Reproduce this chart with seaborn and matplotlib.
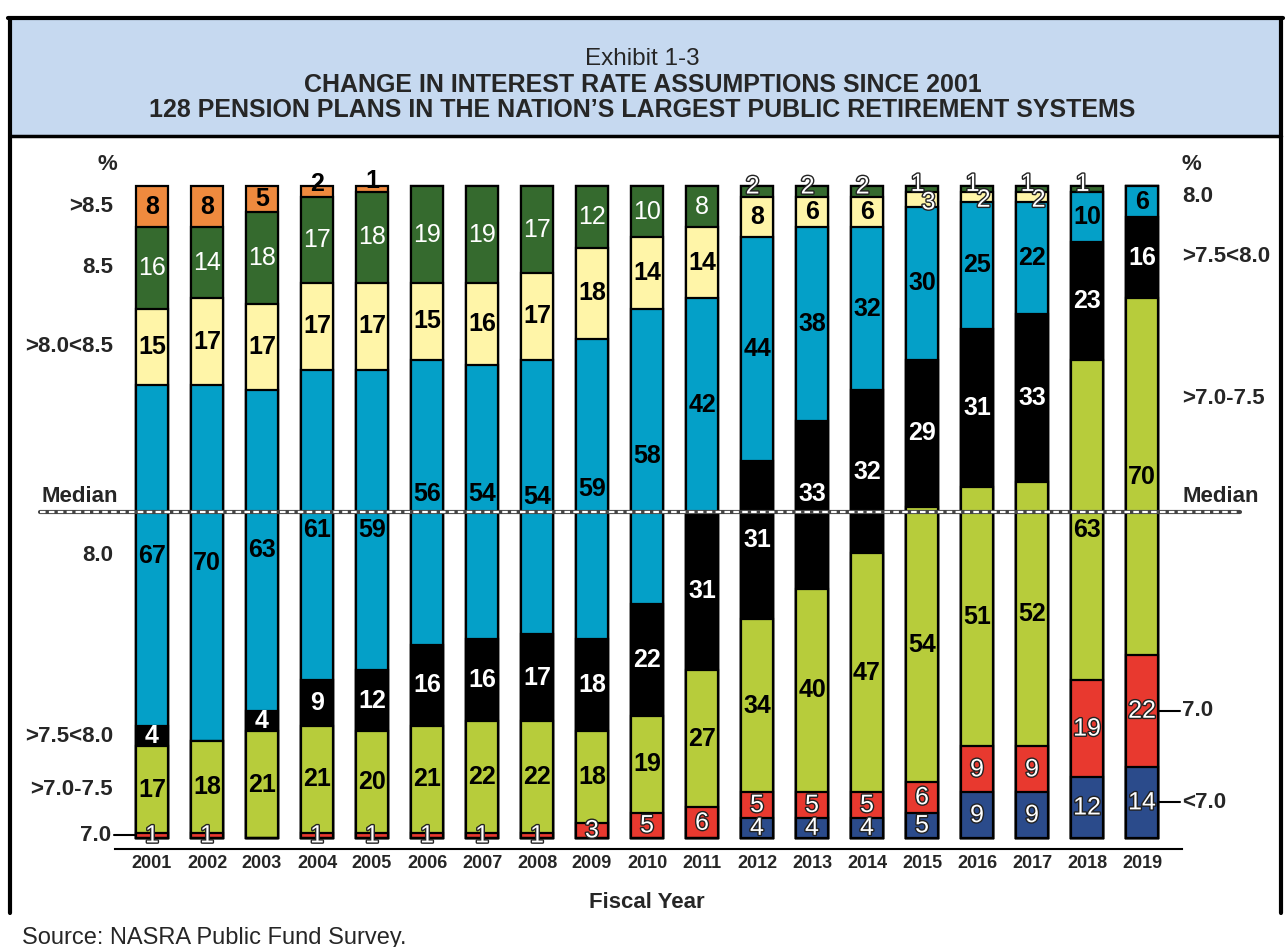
import numpy as np
import pandas as pd
import seaborn as sns
import matplotlib.pyplot as plt
import matplotlib.patheffects as pe
from matplotlib.patches import Rectangle
from matplotlib.lines import Line2D

sns.set_theme(style='white')
plt.rcParams['font.family'] = ['Liberation Sans', 'DejaVu Sans']

years = [str(y) for y in range(2001, 2020)]

# number of plans per assumption bucket, bottom of the bar to top
lt70   = [0, 0, 0, 0, 0, 0, 0, 0, 0, 0, 0, 4, 4, 4, 5, 9, 9, 12, 14]
eq70   = [1, 1, 0, 1, 1, 1, 1, 1, 3, 5, 6, 5, 5, 5, 6, 9, 9, 19, 22]
r70_75 = [17, 18, 21, 21, 20, 21, 22, 22, 18, 19, 27, 34, 40, 47, 54, 51, 52, 63, 70]
r75_80 = [4, 0, 4, 9, 12, 16, 16, 17, 18, 22, 31, 31, 33, 32, 29, 31, 33, 23, 16]
eq80   = [67, 70, 63, 61, 59, 56, 54, 54, 59, 58, 42, 44, 38, 32, 30, 25, 22, 10, 6]
r80_85 = [15, 17, 17, 17, 17, 15, 16, 17, 18, 14, 14, 8, 6, 6, 3, 2, 2, 0, 0]
eq85   = [16, 14, 18, 17, 18, 19, 19, 17, 12, 10, 8, 2, 2, 2, 1, 1, 1, 1, 0]
gt85   = [8, 8, 5, 2, 1, 0, 0, 0, 0, 0, 0, 0, 0, 0, 0, 0, 0, 0, 0]

left_labels = ['7.0', '>7.0-7.5', '>7.5<8.0', '8.0', '>8.0<8.5', '8.5', '>8.5']
right_labels = ['<7.0', '7.0', '>7.0-7.5', '>7.5<8.0', '8.0']
median = 64

# (values, fill colour, text colour, bold, outlined)
layers = [
    (lt70,   '#2b4b8b', 'white', False, True),
    (eq70,   '#e8392f', 'white', False, True),
    (r70_75, '#b7cc3b', 'black', True, False),
    (r75_80, '#000000', 'white', True, False),
    (eq80,   '#04a0c8', 'black', True, False),
    (r80_85, '#fff5a8', 'black', True, False),
    (eq85,   '#356a2e', 'white', False, False),
    (gt85,   '#ef8a3e', 'black', True, False),
]

W, H = 1285, 947
fig = plt.figure(figsize=(W / 100, H / 100), dpi=100)
fig.patch.set_facecolor('white')

def fy(py):
    return 1 - py / H

# header band and frame
fig.add_artist(Rectangle((10 / W, fy(136)), 1271 / W, 118 / H, transform=fig.transFigure,
                         facecolor='#c6d9f0', edgecolor='none', zorder=0))
fig.add_artist(Line2D([8 / W, 1283 / W], [fy(18), fy(18)], color='black', lw=3))
fig.add_artist(Line2D([10 / W, 1281 / W], [fy(136), fy(136)], color='black', lw=2.5))
fig.add_artist(Line2D([10 / W, 10 / W], [fy(18), fy(913)], color='black', lw=3))
fig.add_artist(Line2D([1281 / W, 1281 / W], [fy(18), fy(913)], color='black', lw=3))

fig.text(0.5, fy(59), 'Exhibit 1-3', ha='center', va='center', fontsize=17.5)
fig.text(0.5, fy(85), 'CHANGE IN INTEREST RATE ASSUMPTIONS SINCE 2001',
         ha='center', va='center', fontsize=18, fontweight='bold')
fig.text(0.5, fy(110), '128 PENSION PLANS IN THE NATION\u2019S LARGEST PUBLIC RETIREMENT SYSTEMS',
         ha='center', va='center', fontsize=18, fontweight='bold')

# plot area: bars centred at 152 + 55*i px, zero at y=838 px, 5.09 px per plan
ax = fig.add_axes([115 / W, fy(849), (1182 - 115) / W, (849 - 150) / H])
ax.set_facecolor('white')

def px2x(px):
    return (px - 152) / 55

def py2y(py):
    return (838 - py) / 5.09

cum = np.cumsum([np.array(v) for v, *_ in layers], axis=0)

# overlapping cumulative bars, tallest first
for k in range(len(layers) - 1, -1, -1):
    sns.barplot(x=years, y=cum[k], order=years, color=layers[k][1], saturation=1,
                width=0.58, edgecolor='black', linewidth=1.6, errorbar=None, ax=ax)

outline = [pe.Stroke(linewidth=2, foreground='#222222'), pe.Normal()]
for k, (vals, fill, tc, bold, outl) in enumerate(layers):
    for i, v in enumerate(vals):
        if v == 0:
            continue
        base = cum[k][i] - v
        x, y = i, base + v / 2
        color, weight, effects = tc, 'bold' if bold else 'normal', None
        if outl:
            effects = outline
        if k == 5 and v <= 3:
            color, weight, effects = 'white', 'normal', outline
            x, y = i + 0.12, y - 0.6
        if k == 6 and v <= 2:
            effects = outline
            x, y = i - 0.08, y + 1.0
        if k == 7 and v <= 2:
            y = y + 1.5
        # keep numbers clear of the median line
        if v > 10 and abs(y - median) < 3:
            y = median + 3.5 if y >= median else median - 3.5
        ax.text(x, y, str(v), ha='center', va='center', fontsize=18, color=color,
                fontweight=weight, path_effects=effects, zorder=5, clip_on=False)

ax.set_xlim(px2x(115), px2x(1182))
ax.set_ylim(py2y(849), py2y(150))
ax.set_yticks([])
ax.tick_params(axis='x', length=0, pad=4)
ax.set_xticks(range(len(years)))
ax.set_xticklabels(years, fontsize=13, fontweight='bold',
                   family=['Liberation Sans Narrow', 'Liberation Sans'])
ax.set_xlabel('')
ax.set_ylabel('')
for s in ['left', 'right', 'top']:
    ax.spines[s].set_visible(False)
ax.spines['bottom'].set_color('black')
ax.spines['bottom'].set_linewidth(1.5)

# median line
ax.plot([px2x(40), px2x(1240)], [median, median], color='#444444', lw=3, clip_on=False, zorder=6)
ax.plot([px2x(40), px2x(1240)], [median, median], color='white', lw=1.6, ls=(0, (2.5, 1.5)),
        clip_on=False, zorder=7)

# bucket labels at the 2001 bar (left) and 2019 bar (right)
lab = dict(fontsize=16, fontweight='bold', va='center', clip_on=False)
left_x = px2x(113)
first = [cum[k][0] - layers[k][0][0] / 2 for k in range(1, 8)]
for t, y in zip(left_labels, first):
    if t == '7.0':
        ax.text(px2x(111), y, t, ha='right', **lab)
        ax.plot([px2x(114), px2x(136)], [y, y], color='black', lw=1.5, clip_on=False)
    else:
        ax.text(left_x, y, t, ha='right', **lab)
ax.text(px2x(117), py2y(165), '%', ha='right', **lab)
ax.text(px2x(118), py2y(496), 'Median', ha='right', **lab)

right_x = px2x(1182)
ax.text(right_x, py2y(165), '%', ha='left', **lab)
ax.text(right_x, py2y(196), right_labels[4], ha='left', **lab)
ax.text(right_x, py2y(257), right_labels[3], ha='left', **lab)
ax.text(right_x, py2y(398), right_labels[2], ha='left', **lab)
ax.text(right_x, py2y(496), 'Median', ha='left', **lab)
last = len(years) - 1
for k in [1, 0]:
    y = cum[k][last] - layers[k][0][last] / 2
    ax.text(right_x, y, right_labels[k], ha='left', **lab)
    ax.plot([px2x(1158), px2x(1180)], [y, y], color='black', lw=1.5, clip_on=False)

fig.text(647 / W, fy(902), 'Fiscal Year', ha='center', va='center', fontsize=16, fontweight='bold')
fig.text(22 / W, fy(938), 'Source: NASRA Public Fund Survey.', ha='left', va='center', fontsize=17)

fig.savefig('out.png', dpi=100)
